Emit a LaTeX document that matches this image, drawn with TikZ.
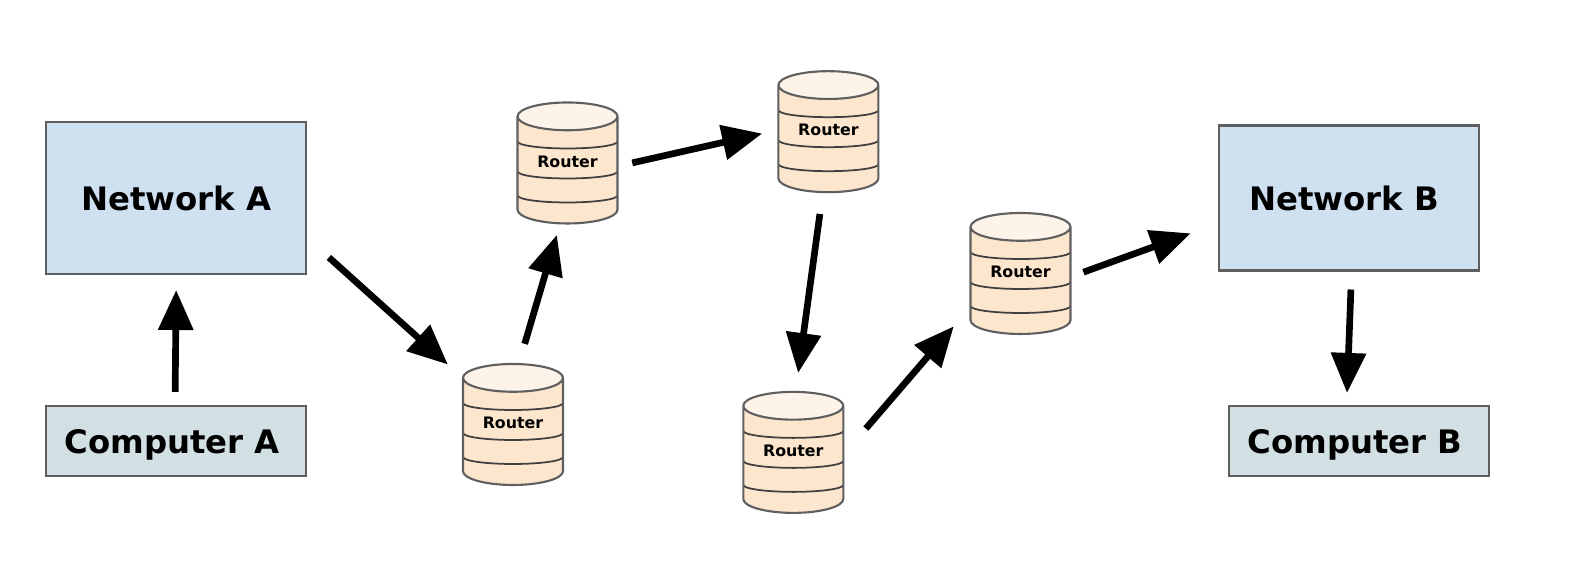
\documentclass[tikz,border=0pt]{standalone}
\usepackage{xcolor}
\usepackage{fontspec}
\setmainfont{DejaVu Sans}
\usepackage{tikz}
\usetikzlibrary{arrows.meta, shapes.geometric}
\definecolor{netblue}{RGB}{207, 224, 241}
\definecolor{hostgrey}{RGB}{210, 224, 228}
\definecolor{routerbody}{RGB}{253, 230, 206}
\definecolor{routertop}{RGB}{254, 243, 232}
\definecolor{edgegrey}{RGB}{95, 95, 95}
\newcommand{\routertext}{\raisebox{0.09cm}[\height][\depth]{Router}}
\newcommand{\hosttext}[1]{\raisebox{-0.04cm}[\height][\depth]{#1\kern0.08cm}}
\tikzset{
    network/.style={draw=edgegrey, line width=0.6pt, fill=netblue, minimum width=2.6cm, minimum height=1.52cm, inner sep=0pt, font=\bfseries\fontsize{9.2}{11}\selectfont},
    host/.style={draw=edgegrey, line width=0.6pt, fill=hostgrey, minimum width=2.6cm, minimum height=0.70cm, inner sep=0pt, font=\bfseries\fontsize{9.2}{11}\selectfont},
    router/.style={cylinder, shape border rotate=90, aspect=0.46, anchor=shape center, draw=edgegrey, line width=0.6pt, cylinder uses custom fill, cylinder body fill=routerbody, cylinder end fill=routertop, minimum width=1cm, minimum height=1.21cm, inner sep=0pt, font=\bfseries\fontsize{4.5}{5}\selectfont,
        path picture={
            \foreach \b in {0.215,-0.085,-0.325}
                \draw[line width=0.5pt, black!75] ([yshift=\b cm]path picture bounding box.center) ++(-0.5,0) arc[start angle=180, end angle=360, x radius=0.5, y radius=0.07];
        }},
    flow/.style={-{Triangle[length=0.40cm, width=0.34cm]}, line width=1.9pt, black}
}

\begin{document}
\begin{tikzpicture}
    \useasboundingbox (0,0) rectangle (15.76,5.70);

    % left side
    \node[network] (netA) at (1.763,3.72) {Network A};
    \node[host] (compA) at (1.763,1.29) {\hosttext{Computer A}};

    % routers
    \node[router] (routerA) at (5.13,1.455) {\routertext};
    \node[router] (routerB) at (5.675,4.07) {\routertext};
    \node[router] (routerC) at (8.284,4.383) {\routertext};
    \node[router] (routerD) at (7.933,1.176) {\routertext};
    \node[router] (routerE) at (10.205,2.965) {\routertext};

    % right side
    \node[network, minimum height=1.45cm] (netB) at (13.49,3.72) {Network B\kern0.10cm};
    \node[host] (compB) at (13.59,1.29) {\hosttext{Computer B}};

    % arrows
    \draw[flow, shorten <=0.13cm, shorten >=0.15cm] (compA.92) -- (netA.270);
    \draw[flow, shorten <=0.29cm, shorten >=0.19cm] (netA.-17) -- (routerA.133.5);
    \draw[flow, shorten <=0.20cm, shorten >=0.11cm] (routerA.85) -- (routerB.262);
    \draw[flow, shorten <=0.14cm, shorten >=0.155cm] (routerB.5) -- (routerC.170.6);
    \draw[flow, shorten <=0.21cm, shorten >=0.18cm] (routerC.264) -- (routerD.88);
    \draw[flow, shorten <=0.33cm, shorten >=0.24cm] (routerD.7) -- (routerE.208.4);
    \draw[flow, shorten <=0.126cm, shorten >=0.29cm] (routerE.5) -- (netB.191.8);
    \draw[flow, shorten <=0.18cm, shorten >=0.12cm] (netB.272) -- (compB.109);
\end{tikzpicture}
\end{document}
